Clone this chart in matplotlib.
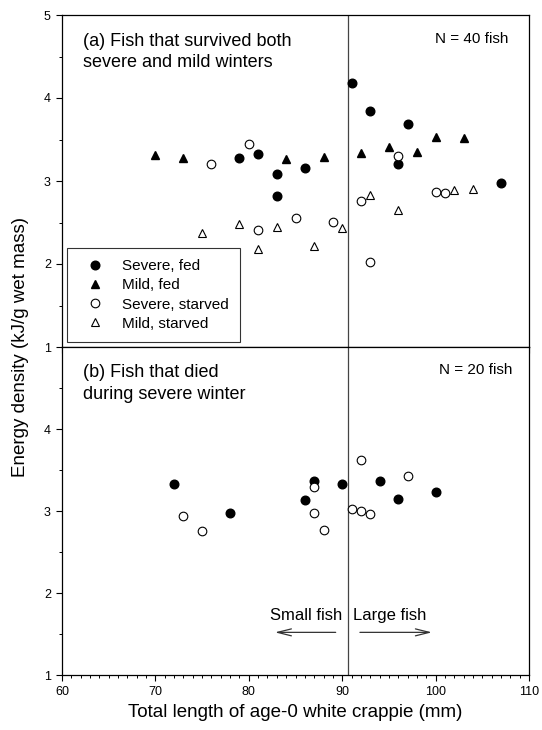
import matplotlib
matplotlib.use("Agg")
import matplotlib.pyplot as plt
from matplotlib.ticker import MultipleLocator

plt.rcParams['font.family'] = ['Liberation Sans', 'DejaVu Sans']

# ---- Panel (a): fish that survived both winters ----
a_severe_fed_x = [79, 81, 83, 83, 86, 91, 93, 97, 96, 107]
a_severe_fed_y = [3.28, 3.33, 3.08, 2.82, 3.16, 4.18, 3.84, 3.69, 3.21, 2.98]
a_mild_fed_x = [70, 73, 84, 88, 92, 95, 98, 100, 103]
a_mild_fed_y = [3.31, 3.28, 3.26, 3.29, 3.34, 3.41, 3.35, 3.53, 3.52]
a_severe_starved_x = [76, 80, 81, 85, 89, 92, 93, 96, 100, 101]
a_severe_starved_y = [3.21, 3.45, 2.41, 2.56, 2.51, 2.76, 2.02, 3.30, 2.87, 2.85]
a_mild_starved_x = [75, 79, 81, 83, 87, 90, 93, 96, 102, 104]
a_mild_starved_y = [2.37, 2.48, 2.18, 2.44, 2.22, 2.43, 2.83, 2.65, 2.89, 2.90]

# ---- Panel (b): fish that died during severe winter ----
b_severe_fed_x = [72, 78, 86, 87, 90, 94, 96, 100]
b_severe_fed_y = [3.33, 2.97, 3.13, 3.37, 3.33, 3.36, 3.15, 3.23]
b_severe_starved_x = [73, 75, 87, 87, 88, 91, 92, 92, 93, 97]
b_severe_starved_y = [2.94, 2.76, 3.29, 2.98, 2.77, 3.03, 3.62, 3.00, 2.96, 3.43]

size_cutoff = 90.6
x_ticks = [60, 70, 80, 90, 100, 110]

fig = plt.figure(figsize=(5.42, 7.30), dpi=100)
L, R = 62 / 542, 529 / 542
axA = fig.add_axes([L, 1 - 347 / 730, R - L, (347 - 15) / 730])
axB = fig.add_axes([L, 1 - 675 / 730, R - L, (675 - 347) / 730])

ms = 6.2
for ax in (axA, axB):
    ax.set_xlim(60, 110)
    ax.set_ylim(1, 5)
    ax.xaxis.set_major_locator(MultipleLocator(10))
    ax.xaxis.set_minor_locator(MultipleLocator(1))
    ax.yaxis.set_major_locator(MultipleLocator(1))
    ax.yaxis.set_minor_locator(MultipleLocator(0.5))
    ax.tick_params(which='major', direction='out', length=4, width=0.8, labelsize=9, pad=4)
    ax.tick_params(which='minor', direction='out', length=2.5, width=0.7)
    for s in ax.spines.values():
        s.set_linewidth(0.9)
    ax.axvline(size_cutoff, color='#444444', lw=0.9, zorder=1)

axA.tick_params(axis='x', labelbottom=False)
axB.set_yticks([1, 2, 3, 4])
axB.set_xticks(x_ticks)

pA = []
pA.append(axA.plot(a_severe_fed_x, a_severe_fed_y, 'o', color='black', ms=ms, ls='none', label='Severe, fed')[0])
pA.append(axA.plot(a_mild_fed_x, a_mild_fed_y, '^', color='black', ms=ms, ls='none', label='Mild, fed')[0])
pA.append(axA.plot(a_severe_starved_x, a_severe_starved_y, 'o', mfc='white', mec='black', mew=0.8, ms=ms, ls='none', label='Severe, starved')[0])
pA.append(axA.plot(a_mild_starved_x, a_mild_starved_y, '^', mfc='white', mec='black', mew=0.8, ms=ms, ls='none', label='Mild, starved')[0])

axB.plot(b_severe_fed_x, b_severe_fed_y, 'o', color='black', ms=ms, ls='none')
axB.plot(b_severe_starved_x, b_severe_starved_y, 'o', mfc='white', mec='black', mew=0.8, ms=ms, ls='none')

leg = axA.legend(handles=pA, loc='lower left', bbox_to_anchor=(0.011, 0.015),
                 borderaxespad=0, frameon=True, fancybox=False, edgecolor='black',
                 fontsize=11, labelspacing=0.33, handlelength=2.2, handletextpad=0.63,
                 borderpad=0.75, markerscale=1.0)
leg.get_frame().set_linewidth(0.8)

axA.text(0.045, 0.947, '(a) Fish that survived both\nsevere and mild winters',
         transform=axA.transAxes, ha='left', va='top', fontsize=13, linespacing=1.35)
axA.text(0.955, 0.95, 'N = 40 fish', transform=axA.transAxes, ha='right', va='top', fontsize=11)
axB.text(0.045, 0.947, '(b) Fish that died\nduring severe winter',
         transform=axB.transAxes, ha='left', va='top', fontsize=13, linespacing=1.35)
axB.text(0.965, 0.95, 'N = 20 fish', transform=axB.transAxes, ha='right', va='top', fontsize=11)

axB.text(size_cutoff - 0.6, 1.73, 'Small fish', ha='right', va='center', fontsize=12)
axB.text(size_cutoff + 0.6, 1.73, 'Large fish', ha='left', va='center', fontsize=12)
arrowprops = dict(arrowstyle='->,head_length=1.0,head_width=0.25', color='#333333', lw=0.9)
axB.annotate('', xy=(82.5, 1.52), xytext=(89.6, 1.52), arrowprops=arrowprops)
axB.annotate('', xy=(99.9, 1.52), xytext=(91.6, 1.52), arrowprops=arrowprops)

axB.set_xlabel('Total length of age-0 white crappie (mm)', fontsize=13.5, labelpad=4)
fig.text(0.037, 0.525, 'Energy density (kJ/g wet mass)', rotation=90, ha='center', va='center', fontsize=13.5)

fig.savefig('out.png', dpi=100)
